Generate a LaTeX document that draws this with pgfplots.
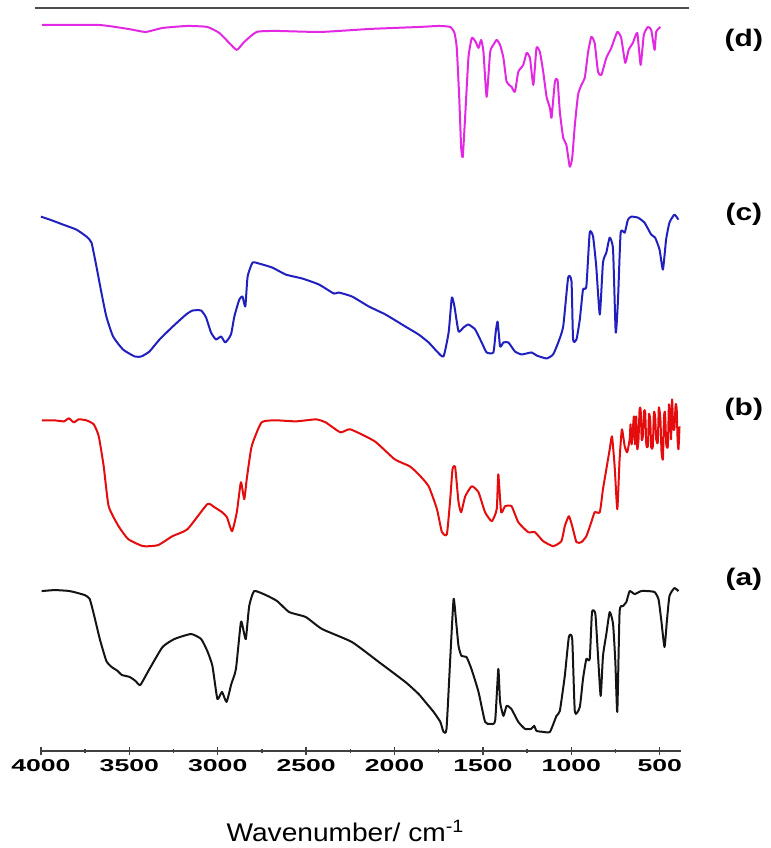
\documentclass[border=0pt]{standalone}
\usepackage{fontspec}
\setmainfont{Liberation Sans}
\newfontfamily\tickfont[FakeStretch=1.55]{Liberation Sans Bold}
\newfontfamily\labfont[FakeStretch=1.25]{Liberation Sans Bold}
\newfontfamily\axfont[FakeStretch=1.1]{Liberation Sans}
\usepackage{pgfplots}
\pgfplotsset{compat=1.18}
\definecolor{cA}{RGB}{20,20,20}
\definecolor{cB}{RGB}{228,12,12}
\definecolor{cC}{RGB}{32,32,190}
\definecolor{cD}{RGB}{226,40,226}
\begin{document}
\begin{tikzpicture}
\path (-20.5pt,-48pt) rectangle (365.5pt,376pt);
\begin{axis}[
  scale only axis, width=320.5pt, height=372pt,
  x dir=reverse, xmin=380, xmax=4000, ymin=-752, ymax=-8,
  axis x line=bottom, axis y line=none,
  axis line style={-, line width=0.7pt, draw=black!75},
  xtick={4000,3500,3000,2500,2000,1500,1000,500},
  minor x tick num=1,
  tick align=center,
  major tick length=4pt, minor tick length=2pt,
  every tick/.style={black!75, line width=0.7pt},
  /pgf/number format/1000 sep={},
  /pgf/number format/assume math mode=true,
  xticklabel style={font=\tickfont\fontsize{8.6}{9}\selectfont, yshift=1pt},
  clip=false,
  every axis plot/.append style={line width=1pt, line join=round, smooth, tension=0.3},
]
\addplot[cA] table {
3996 -592
3921 -591
3837 -592
3752 -596
3724 -600
3701 -615
3667 -640
3630 -662
3600 -668
3566 -672
3543 -676
3498 -678
3465 -682
3438 -686
3386 -670
3312 -648
3245 -640
3151 -635
3094 -640
3059 -652
3030 -667
3002 -700
2976 -693
2950 -703
2923 -685
2897 -670
2869 -623
2856 -630
2841 -640
2822 -607
2794 -592
2728 -596
2664 -602
2596 -613
2502 -618
2410 -630
2241 -643
2089 -663
1939 -683
1864 -695
1826 -703
1779 -713
1741 -723
1723 -733
1706 -730
1685 -660
1666 -600
1653 -620
1638 -647
1621 -657
1593 -658
1565 -670
1525 -693
1488 -723
1459 -725
1431 -722
1413 -670
1403 -703
1384 -717
1366 -707
1339 -710
1300 -723
1262 -730
1227 -730
1210 -727
1197 -732
1159 -733
1121 -733
1084 -717
1065 -712
1037 -677
1014 -638
995 -640
980 -713
952 -708
934 -680
915 -660
896 -660
883 -613
864 -615
849 -657
834 -697
821 -657
802 -635
783 -613
764 -625
751 -663
740 -713
727 -613
708 -607
689 -603
670 -592
642 -595
605 -592
567 -592
529 -593
507 -600
492 -620
473 -648
460 -623
445 -597
417 -589
394 -592
};
\addplot[cB] table {
3994 -421
3924 -421
3870 -422
3842 -419
3814 -423
3786 -420
3743 -421
3701 -425
3673 -437
3645 -467
3617 -507
3561 -527
3506 -540
3422 -547
3338 -546
3256 -537
3171 -530
3059 -505
3019 -508
2975 -513
2948 -518
2919 -532
2892 -513
2869 -483
2850 -500
2836 -480
2808 -447
2752 -423
2670 -421
2557 -422
2445 -420
2390 -423
2306 -433
2250 -430
2112 -442
1999 -460
1914 -467
1864 -475
1807 -487
1760 -510
1732 -533
1704 -535
1685 -500
1672 -470
1657 -468
1638 -503
1623 -513
1600 -497
1563 -487
1525 -493
1488 -513
1450 -522
1422 -510
1413 -475
1397 -513
1375 -507
1338 -507
1300 -523
1244 -533
1206 -533
1159 -542
1103 -547
1056 -542
1037 -527
1014 -517
995 -527
971 -543
943 -543
915 -537
887 -523
868 -513
839 -513
821 -490
802 -470
783 -450
770 -437
755 -467
740 -510
727 -460
714 -430
698 -447
684 -453
670 -440
665 -425
659 -445
652 -430
646 -417
640 -445
633 -417
627 -450
620 -440
614 -410
608 -410
602 -440
595 -437
589 -412
582 -413
576 -445
567 -447
561 -415
554 -420
548 -448
539 -447
533 -413
526 -417
520 -440
511 -443
505 -408
496 -420
490 -452
482 -460
476 -418
470 -413
463 -445
454 -447
448 -405
441 -417
436 -440
430 -400
424 -428
417 -430
410 -405
404 -410
399 -440
394 -450
388 -427
};
\addplot[cC] table {
4000 -217
3949 -220
3874 -225
3799 -230
3742 -237
3714 -243
3686 -267
3658 -293
3630 -317
3592 -337
3536 -350
3470 -357
3432 -357
3386 -352
3329 -340
3254 -327
3179 -315
3142 -311
3094 -311
3066 -318
3038 -333
3010 -340
2981 -337
2957 -343
2925 -335
2906 -317
2878 -300
2860 -297
2844 -307
2831 -277
2803 -263
2766 -264
2691 -268
2615 -275
2521 -279
2427 -285
2343 -294
2315 -293
2240 -297
2145 -307
2051 -315
1939 -327
1864 -335
1807 -343
1760 -352
1723 -357
1694 -333
1676 -298
1661 -307
1638 -332
1610 -328
1582 -325
1544 -330
1507 -343
1479 -353
1441 -353
1428 -333
1417 -322
1403 -347
1384 -343
1356 -343
1319 -352
1281 -355
1225 -353
1197 -356
1140 -359
1103 -355
1074 -343
1046 -327
1018 -278
999 -282
990 -340
971 -340
952 -320
934 -290
915 -287
896 -233
877 -237
859 -267
839 -315
821 -263
802 -253
783 -238
764 -250
749 -333
736 -300
721 -233
698 -233
680 -220
661 -217
623 -218
586 -223
548 -235
526 -238
501 -250
482 -270
464 -240
445 -223
417 -215
394 -220
};
\addplot[cD] table {
3994 -25
3673 -25
3506 -29
3408 -32
3312 -28
3171 -26
3059 -27
2991 -33
2935 -43
2892 -50
2850 -42
2780 -32
2670 -31
2417 -32
2140 -29
1859 -27
1751 -26
1685 -27
1661 -33
1648 -48
1634 -98
1623 -148
1614 -157
1600 -115
1582 -58
1563 -38
1541 -42
1525 -48
1510 -40
1497 -52
1479 -97
1459 -52
1441 -45
1422 -40
1403 -45
1384 -58
1366 -82
1338 -87
1319 -92
1300 -72
1272 -65
1253 -53
1234 -58
1215 -85
1197 -48
1178 -52
1159 -72
1140 -97
1121 -108
1112 -118
1093 -82
1078 -80
1065 -112
1046 -138
1028 -145
1009 -167
995 -158
980 -125
962 -95
943 -85
924 -78
905 -52
887 -37
868 -43
849 -72
830 -75
802 -58
774 -48
740 -32
718 -38
695 -63
676 -50
652 -43
627 -33
608 -65
590 -35
567 -27
548 -30
529 -50
520 -32
496 -27
};
\end{axis}
\draw[black!70, line width=0.8pt] (-3pt,372pt) -- (324.5pt,372pt);
\node[font=\labfont\fontsize{12}{13}\selectfont] at (352pt,356pt) {(d)};
\node[font=\labfont\fontsize{12}{13}\selectfont] at (352pt,268.5pt) {(c)};
\node[font=\labfont\fontsize{12}{13}\selectfont] at (352pt,171pt) {(b)};
\node[font=\labfont\fontsize{12}{13}\selectfont] at (352pt,86pt) {(a)};
\node[font=\axfont\fontsize{12.8}{14}\selectfont] at (152.5pt,-40pt) {Wavenumber/ cm\textsuperscript{-1}};
\end{tikzpicture}
\end{document}
